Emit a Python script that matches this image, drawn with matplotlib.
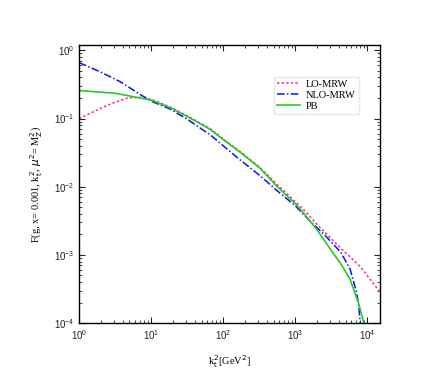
import matplotlib
matplotlib.use("Agg")
import matplotlib.pyplot as plt
import numpy as np

# values, as log10(k_t^2) and log10(F)
lo_logx = [0, 0.3, 0.5, 0.67, 0.85, 1.0, 1.26, 1.5, 1.82, 2.0, 2.24, 2.5, 2.76, 3.0, 3.11, 3.3, 3.58, 3.9, 4.18, 4.25]
lo_logy = [-1.0, -0.85, -0.76, -0.70, -0.69, -0.72, -0.83, -0.96, -1.15, -1.30, -1.49, -1.71, -1.98, -2.22, -2.33, -2.55, -2.85, -3.17, -3.55, -3.63]

nlo_logx = [0, 0.3, 0.57, 0.85, 1.03, 1.26, 1.5, 1.82, 2.0, 2.19, 2.5, 2.76, 3.0, 3.2, 3.4, 3.63, 3.76, 3.85, 3.88, 3.9, 3.91]
nlo_logy = [-0.18, -0.32, -0.46, -0.65, -0.76, -0.86, -1.01, -1.24, -1.40, -1.57, -1.83, -2.07, -2.28, -2.50, -2.70, -2.96, -3.21, -3.55, -3.75, -4.0, -4.2]

pb_logx = [0, 0.5, 0.85, 1.0, 1.26, 1.5, 1.82, 2.0, 2.24, 2.5, 2.76, 3.0, 3.11, 3.3, 3.49, 3.65, 3.76, 3.875, 3.95, 3.97]
pb_logy = [-0.59, -0.63, -0.70, -0.73, -0.84, -0.97, -1.16, -1.31, -1.50, -1.72, -2.01, -2.25, -2.38, -2.63, -2.92, -3.16, -3.36, -3.70, -4.0, -4.1]

labels = ["LO-MRW", "NLO-MRW", "PB"]

serif = "Liberation Serif"
plt.rcParams["font.family"] = "Liberation Sans"

fig = plt.figure(figsize=(4.42, 3.87), dpi=100)
ax = fig.add_axes([0.179, 0.165, 0.681, 0.719])

ax.plot(10 ** np.array(lo_logx), 10 ** np.array(lo_logy), color="#ff2a8a",
        ls=(0, (1.6, 1.4)), lw=1.1, label=labels[0])
ax.plot(10 ** np.array(nlo_logx), 10 ** np.array(nlo_logy), color="#1010ee",
        ls=(0, (5, 1.5, 1, 1.5)), lw=1.1, label=labels[1])
ax.plot(10 ** np.array(pb_logx), 10 ** np.array(pb_logy), color="#22cc22",
        ls="-", lw=1.2, label=labels[2])

ax.set_xscale("log")
ax.set_yscale("log")
ax.set_xlim(1, 1.5e4)
ax.set_ylim(1e-4, 1.2)

ax.tick_params(which="both", direction="in", top=True, right=True,
               labelsize=7, colors="#222222")
ax.tick_params(which="major", length=4, width=0.8)
ax.tick_params(which="minor", length=2, width=0.6)
for s in ax.spines.values():
    s.set_linewidth(1.0)

ax.set_xlabel(r"k$_{\rm t}^2$[GeV$^2$]", fontfamily=serif, fontsize=7.5, labelpad=8)
ax.set_ylabel(r"F(g, x= 0.001, k$_{\rm t}^2$, $\mu^2$= M$_{\rm Z}^2$)",
              fontfamily=serif, fontsize=7.5, labelpad=6)

leg = ax.legend(loc="upper left", bbox_to_anchor=(0.63, 0.905),
                prop={"family": serif, "size": 7.5}, frameon=True,
                fancybox=False, edgecolor="#e4e4e4", handlelength=2.2,
                borderpad=0.3, labelspacing=0.15, handletextpad=0.6)

fig.savefig("out.png", dpi=100)
